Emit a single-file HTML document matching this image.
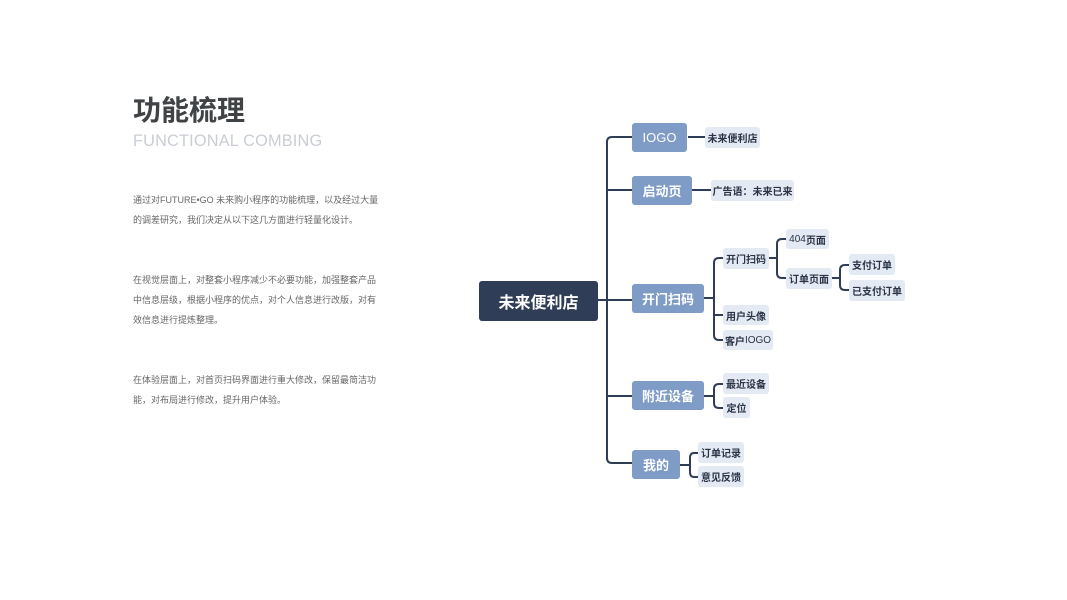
<!DOCTYPE html>
<html><head><meta charset="utf-8"><style>
body{margin:0;width:1067px;height:600px;background:#fff;position:relative;overflow:hidden;font-family:"Liberation Sans","Noto Sans CJK SC",sans-serif}
.a{position:absolute}
.n{position:absolute;display:flex;align-items:center;justify-content:center;border-radius:3px;font-weight:bold;white-space:nowrap}
.r{background:#2f3e56;color:#fff;font-size:16px}
.l1{background:#7f9cc6;color:#fff;font-size:13px}
.l2{background:#e4eaf3;color:#2a3446;font-size:10px}
p{margin:0}
.t{font-size:9px;color:#666;line-height:20px;width:250px}
</style></head><body>
<div class="a" style="left:133px;top:89px;font-size:28px;font-weight:bold;color:#3f4346">功能梳理</div>
<div class="a" style="left:133px;top:132px;font-size:16.3px;color:#c9ced4;letter-spacing:0.2px">FUNCTIONAL COMBING</div>
<div class="a t" style="left:133px;top:190px">通过对FUTURE•GO 未来购小程序的功能梳理，以及经过大量的调差研究，我们决定从以下这几方面进行轻量化设计。</div>
<div class="a t" style="left:133px;top:270px">在视觉层面上，对整套小程序减少不必要功能，加强整套产品中信息层级，根据小程序的优点，对个人信息进行改版，对有效信息进行提炼整理。</div>
<div class="a t" style="left:133px;top:370px">在体验层面上，对首页扫码界面进行重大修改，保留最简洁功能，对布局进行修改，提升用户体验。</div>
<svg class="a" style="left:0;top:0" width="1067" height="600" fill="none" stroke="#2f3e56" stroke-width="2">
<path d="M598 300H632"/>
<path d="M632 137H612Q607 137 607 142V458Q607 463 612 463H632"/>
<path d="M607 190H632M607 396H632"/>
<path d="M688 137H705M692 190H711"/>
<path d="M704 298H714M723 258H719Q714 258 714 263V335Q714 340 719 340H723M714 315H723"/>
<path d="M769 258H777M786 239H782Q777 239 777 244V273Q777 278 782 278H786"/>
<path d="M832 278H840M849 265H845Q840 265 840 270V285Q840 290 845 290H849"/>
<path d="M704 396H714M723 384H719Q714 384 714 389V403Q714 408 719 408H723"/>
<path d="M680 465H690M698 453H694Q690 453 690 458V472Q690 477 694 477H698"/>
</svg>
<div class="n r" style="left:479px;top:281px;width:119px;height:40px">未来便利店</div>
<div class="n l1" style="left:632px;top:123px;width:55px;height:29px;font-weight:normal">IOGO</div>
<div class="n l1" style="left:632px;top:176px;width:60px;height:29px">启动页</div>
<div class="n l1" style="left:632px;top:284px;width:72px;height:29px">开门扫码</div>
<div class="n l1" style="left:632px;top:381px;width:72px;height:29px">附近设备</div>
<div class="n l1" style="left:632px;top:450px;width:48px;height:29px">我的</div>
<div class="n l2" style="left:705px;top:127px;width:55px;height:21px">未来便利店</div>
<div class="n l2" style="left:711px;top:180px;width:83px;height:21px">广告语：未来已来</div>
<div class="n l2" style="left:723px;top:248px;width:46px;height:21px">开门扫码</div>
<div class="n l2" style="left:723px;top:305px;width:46px;height:20px">用户头像</div>
<div class="n l2" style="left:723px;top:330px;width:50px;height:20px">客户<span style="font-weight:normal">IOGO</span></div>
<div class="n l2" style="left:723px;top:373px;width:46px;height:21px">最近设备</div>
<div class="n l2" style="left:723px;top:397px;width:27px;height:21px">定位</div>
<div class="n l2" style="left:698px;top:442px;width:46px;height:21px">订单记录</div>
<div class="n l2" style="left:698px;top:466px;width:46px;height:21px">意见反馈</div>
<div class="n l2" style="left:786px;top:229px;width:43px;height:20px"><span style="font-weight:normal">404</span>页面</div>
<div class="n l2" style="left:786px;top:268px;width:46px;height:21px">订单页面</div>
<div class="n l2" style="left:849px;top:254px;width:46px;height:21px">支付订单</div>
<div class="n l2" style="left:849px;top:280px;width:56px;height:21px">已支付订单</div>
</body></html>
